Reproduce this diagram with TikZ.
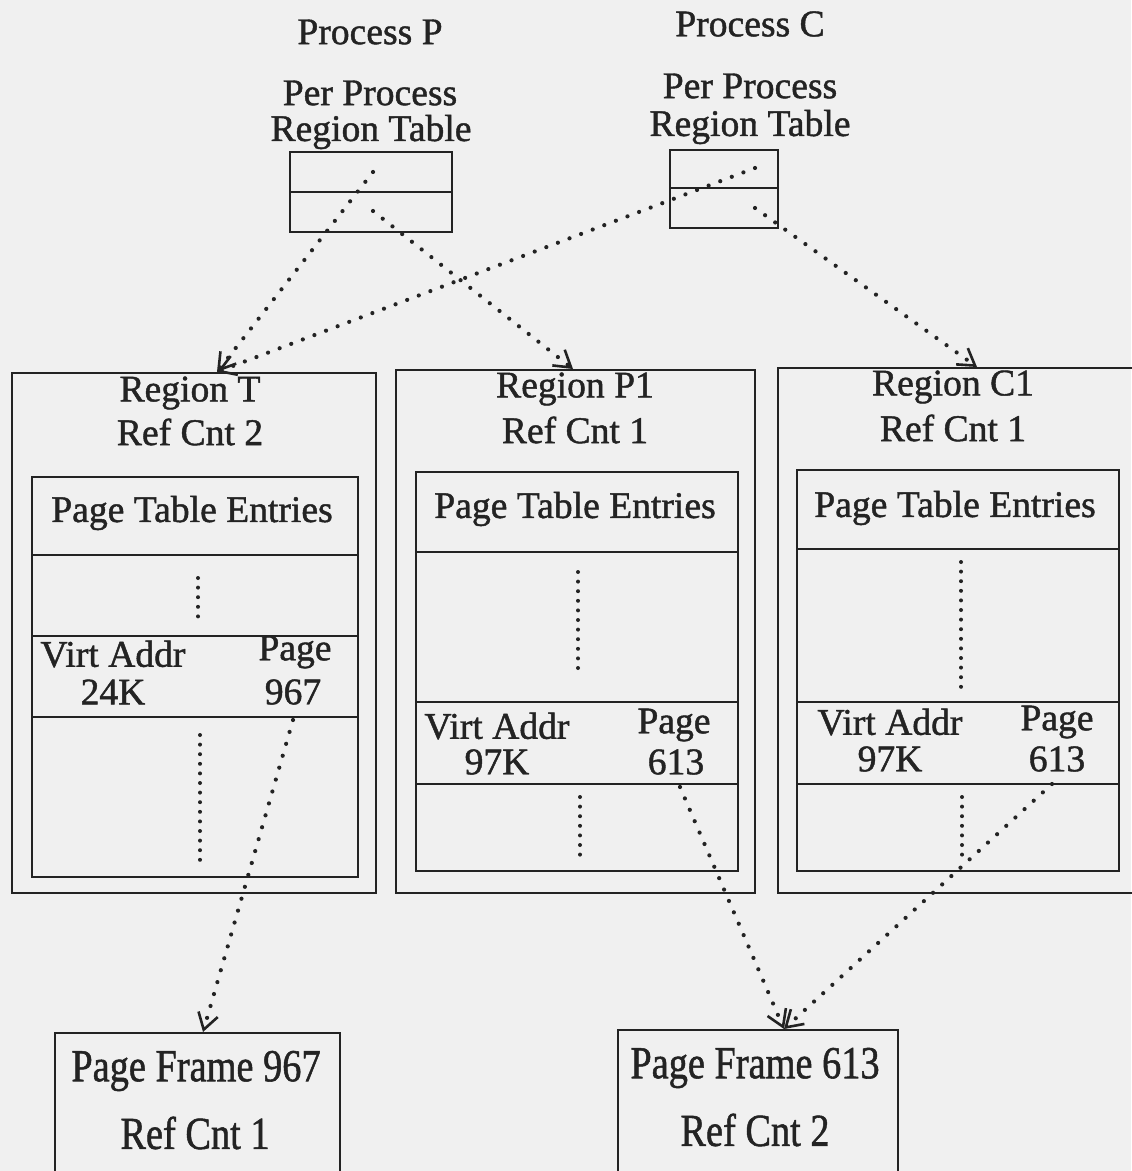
\documentclass[tikz,border=0pt]{standalone}
\usepackage{fontspec}
\usepackage{graphicx}
\setmainfont{Liberation Serif}
\newfontfamily\tfont{Liberation Serif}[FakeBold=1.2]
\usetikzlibrary{arrows.meta,fit}
\definecolor{bg}{RGB}{240,240,240}
\definecolor{ink}{RGB}{35,35,35}
\begin{document}
\begin{tikzpicture}[x=0.5pt,y=-0.5pt,
 box/.style={draw=ink, line width=1.4pt, inner sep=0pt},
 rule/.style={draw=ink, line width=1.4pt},
 lbl/.style={text=ink, font=\tfont\fontsize{18.8}{22}\selectfont, inner sep=0pt},
 dotln/.style={draw=ink, line width=2.1pt, dash pattern=on 0pt off 6.2pt, line cap=round},
 vdot/.style={draw=ink, line width=2pt, dash pattern=on 0pt off 4.8pt, line cap=round},
 arr/.style={dotln, -{Straight Barb[length=8pt,width=10pt,line width=1.3pt]}},
]
\fill[bg] (0,0) rectangle (1131,1171);
\useasboundingbox (0,0) rectangle (1131,1171);

% ---- top: per process region tables
\node[lbl] (procP) at (370,32) {Process P};
\node[lbl] (procC) at (750,24) {Process C};
\node[lbl] (pprP) at (370,93) {Per Process};
\node[lbl] (rtP) at (371,132) {Region Table};
\node[lbl] (pprC) at (750,86) {Per Process};
\node[lbl] (rtC) at (750,127) {Region Table};
\node[box, fit={(290,152) (452,232)}] (tabP) {};
\draw[rule] (290,192) -- (452,192);
\node[box, fit={(670,150) (778,228)}] (tabC) {};
\draw[rule] (670,188) -- (778,188);

% ---- Region T
\node[box, fit={(12,373) (376,893)}] (regT) {};
\node[box, fit={(32,477) (358,877)}] (pteT) {};
\draw[rule] (32,555) -- (358,555);
\draw[rule] (32,636) -- (358,636);
\draw[rule] (32,717) -- (358,717);
\node[lbl] (regTname) at (190,393) {Region T};
\node[lbl] (regTcnt) at (190,432) {Ref Cnt 2};
\node[lbl] (pteTh) at (192,513) {Page Table Entries};
\node[lbl] (vaT) at (113,654) {Virt Addr};
\node[lbl] (vaTv) at (113,692) {24K};
\node[lbl] (pgT) at (295,652) {Page};
\node[lbl] (pgTv) at (293,692) {967};
\draw[vdot] (198,578) -- (198,621);
\draw[vdot] (200,735) -- (200,860);

% ---- Region P1
\node[box, fit={(396,370) (755,893)}] (regP) {};
\node[box, fit={(416,472) (738,871)}] (pteP) {};
\draw[rule] (416,552) -- (738,552);
\draw[rule] (416,702) -- (738,702);
\draw[rule] (416,784) -- (738,784);
\node[lbl] (regPname) at (575,389) {Region P1};
\node[lbl] (regPcnt) at (575,430) {Ref Cnt 1};
\node[lbl] (ptePh) at (575,509) {Page Table Entries};
\node[lbl] (vaP) at (497,726) {Virt Addr};
\node[lbl] (vaPv) at (497,762) {97K};
\node[lbl] (pgP) at (674,725) {Page};
\node[lbl] (pgPv) at (676,762) {613};
\draw[vdot] (578,572) -- (578,674);
\draw[vdot] (580,797) -- (580,858);

% ---- Region C1
\node[box, fit={(778,368) (1140,893)}] (regC) {};
\node[box, fit={(797,470) (1119,871)}] (pteC) {};
\draw[rule] (797,549) -- (1119,549);
\draw[rule] (797,702) -- (1119,702);
\draw[rule] (797,784) -- (1119,784);
\node[lbl] (regCname) at (953,387) {Region C1};
\node[lbl] (regCcnt) at (953,428) {Ref Cnt 1};
\node[lbl] (pteCh) at (955,508) {Page Table Entries};
\node[lbl] (vaC) at (890,722) {Virt Addr};
\node[lbl] (vaCv) at (890,759) {97K};
\node[lbl] (pgC) at (1057,722) {Page};
\node[lbl] (pgCv) at (1057,759) {613};
\draw[vdot] (961,562) -- (961,690);
\draw[vdot] (962,797) -- (962,858);

% ---- page frames
\node[box, fit={(55,1033) (340,1195)}] (pf967) {};
\node[lbl] (pf967a) at (196,1071) {\scalebox{1.02}[1.22]{Page Frame 967}};
\node[lbl] (pf967b) at (195,1133) {\scalebox{1.02}[1.22]{Ref Cnt 1}};
\node[box, fit={(618,1030) (898,1195)}] (pf613) {};
\node[lbl] (pf613a) at (755,1068) {\scalebox{1.02}[1.22]{Page Frame 613}};
\node[lbl] (pf613b) at (755,1130) {\scalebox{1.02}[1.22]{Ref Cnt 2}};

% ---- connector endpoints
\coordinate (sP1) at (373,172);
\coordinate (sP2) at (373,211);
\coordinate (sC1) at (755,168);
\coordinate (sC2) at (755,208);
\coordinate (eT) at (217,372);
\coordinate (eP) at (573,369);
\coordinate (eC) at (977,367);
\coordinate (sT967) at (293,720);
\coordinate (sP613) at (680,787);
\coordinate (sC613) at (1052,784);
\coordinate (e967) at (203,1032);
\coordinate (e613) at (784,1029);

\draw[arr] (sP1) -- (eT);
\draw[arr] (sC1) -- (eT);
\draw[arr] (sP2) -- (eP);
\draw[arr] (sC2) -- (eC);
\draw[arr] (sT967) -- (e967);
\draw[arr] (sP613) -- (e613);
\draw[arr] (sC613) -- (e613);
\end{tikzpicture}
\end{document}
